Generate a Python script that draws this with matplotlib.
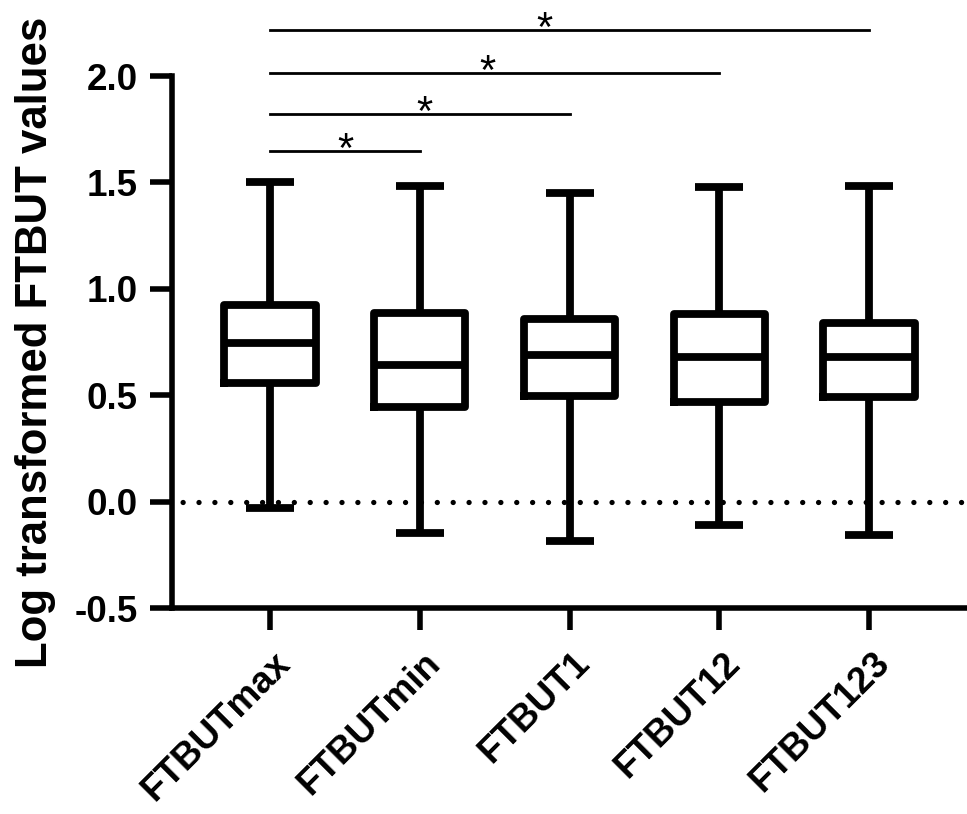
"""Box plot of log transformed FTBUT values (GraphPad style)"""

import matplotlib

matplotlib.use("Agg")
import matplotlib.pyplot as plt
import matplotlib.transforms as mtransforms

# DATA
groups = ["FTBUTmax", "FTBUTmin", "FTBUT1", "FTBUT12", "FTBUT123"]
whisker_low = [-0.03, -0.146, -0.186, -0.11, -0.156]
q1 = [0.559, 0.447, 0.498, 0.467, 0.491]
median = [0.747, 0.644, 0.689, 0.679, 0.679]
q3 = [0.926, 0.888, 0.858, 0.882, 0.840]
whisker_high = [1.504, 1.485, 1.448, 1.478, 1.481]

# significance brackets: first group, second group, bar height, star x
bar_start = [0, 0, 0, 0]
bar_end = [1, 2, 3, 4]
bar_height = [1.649, 1.823, 2.016, 2.218]
star_x = [0.5, 1.03, 1.45, 1.83]

plt.rcParams["font.family"] = ["Liberation Sans", "DejaVu Sans"]
plt.rcParams["font.weight"] = "bold"

fig = plt.figure(figsize=(9.67, 8.14), dpi=100)
ax = fig.add_axes([0.178, 0.253, 0.822, 0.6536])

stats = []
for i, name in enumerate(groups):
    stats.append(
        {
            "label": name,
            "whislo": whisker_low[i],
            "q1": q1[i],
            "med": median[i],
            "q3": q3[i],
            "whishi": whisker_high[i],
            "fliers": [],
        }
    )

lw = 5.6
ax.bxp(
    stats,
    positions=range(len(groups)),
    widths=0.61,
    capwidths=0.32,
    showfliers=False,
    boxprops=dict(color="black", linewidth=lw),
    whiskerprops=dict(color="black", linewidth=lw, solid_capstyle="butt"),
    capprops=dict(color="black", linewidth=lw, solid_capstyle="butt"),
    medianprops=dict(color="black", linewidth=lw, solid_capstyle="butt"),
    zorder=3,
)

# dotted zero line
ax.axhline(
    0,
    color="black",
    linewidth=3.8,
    linestyle=(1.0, (0.01, 3.0)),
    dash_capstyle="round",
    zorder=1,
)

# significance lines with stars
for a, b, h, sx in zip(bar_start, bar_end, bar_height, star_x):
    ax.plot([a, b], [h, h], color="black", linewidth=2.0, clip_on=False)
    ax.annotate(
        "*",
        xy=(sx, h),
        xytext=(0, -8),
        textcoords="offset points",
        ha="center",
        va="baseline",
        fontsize=30,
        fontweight="normal",
        annotation_clip=False,
    )

## Axes adjustments
ax.set_xlim(-0.654, 4.654)
ax.set_ylim(-0.5, 2.0)
ax.set_yticks([-0.5, 0.0, 0.5, 1.0, 1.5, 2.0])
ax.set_yticklabels(["-0.5", "0.0", "0.5", "1.0", "1.5", "2.0"])
ax.set_xticks(range(len(groups)))
ax.set_xticklabels(
    groups, rotation=45, ha="right", va="top", rotation_mode="anchor"
)

for side in ["top", "right"]:
    ax.spines[side].set_visible(False)
for side in ["left", "bottom"]:
    ax.spines[side].set_linewidth(4.0)
    ax.spines[side].set_capstyle("projecting")

ax.tick_params(
    axis="both",
    direction="out",
    length=16,
    width=4.0,
    pad=9,
    color="black",
)
ax.tick_params(axis="y", labelsize=26.5)
ax.tick_params(axis="x", labelsize=26.5, pad=11)

# nudge x labels a bit to the right
shift = mtransforms.ScaledTranslation(3 / 100, 0, fig.dpi_scale_trans)
for lab in ax.get_xticklabels():
    lab.set_transform(lab.get_transform() + shift)

ax.set_ylabel("Log transformed FTBUT values", fontsize=31.5, fontweight="bold")
ax.yaxis.set_label_coords(-0.146, 0.5)

plt.savefig("out.png", dpi=100)
